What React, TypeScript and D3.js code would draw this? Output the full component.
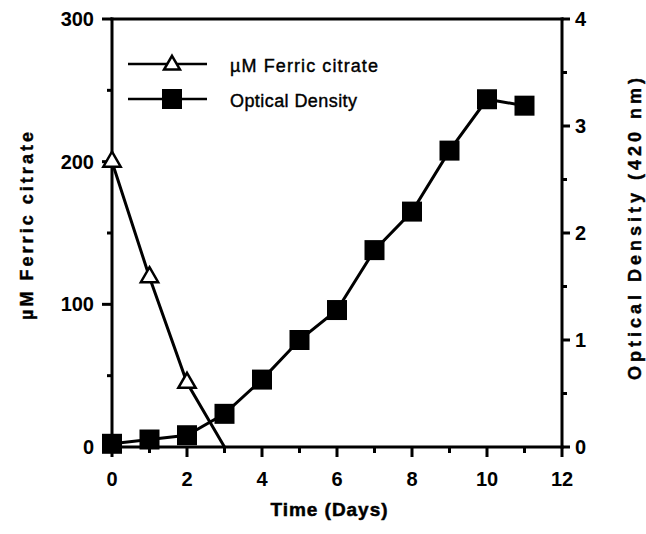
import React from 'react';
import * as d3 from 'd3';

// values
const ferricDays = [0, 1, 2, 3];
const ferricValues = [200, 119, 45, 0];
const odDays = [0, 1, 2, 3, 4, 5, 6, 7, 8, 9, 10, 11];
const odValues = [0.03, 0.07, 0.11, 0.31, 0.63, 1.0, 1.28, 1.84, 2.2, 2.77, 3.25, 3.19];

const xMajor = [0, 2, 4, 6, 8, 10, 12];
const xMinor = [1, 3, 5, 7, 9, 11];
const leftMajor = [0, 100, 200, 300];
const leftMinor = [50, 150, 250];
const rightMajor = [0, 1, 2, 3, 4];
const rightMinor = [0.5, 1.5, 2.5, 3.5];

const legendLabels = ['µM Ferric citrate', 'Optical Density'];

const W = 646;
const H = 534;
const margin = { top: 19, right: 84, bottom: 87, left: 112 };
const font = '"Liberation Sans", Arial, Helvetica, sans-serif';

export default function App() {
  const x = d3.scaleLinear().domain([0, 12]).range([margin.left, W - margin.right]);
  const yL = d3.scaleLinear().domain([0, 300]).range([H - margin.bottom, margin.top]);
  const yR = d3.scaleLinear().domain([0, 4]).range([H - margin.bottom, margin.top]);

  const x0 = x(0), x1 = x(12), yb = yL(0), yt = yL(300);

  const ferricPts = ferricDays.map((d, i) => [d, ferricValues[i]] as [number, number]);
  const odPts = odDays.map((d, i) => [d, odValues[i]] as [number, number]);

  const ferricLine = d3.line<[number, number]>().x(d => x(d[0])).y(d => yL(d[1]));
  const odLine = d3.line<[number, number]>().x(d => x(d[0])).y(d => yR(d[1]));

  const tri = d3.symbol(d3.symbolTriangle, 130)() as string;
  const sq = 20;

  return (
    <svg width={W} height={H} style={{ position: 'absolute', left: 0, top: 0, background: '#fff' }}
      fontFamily={font}>
      {/* data lines */}
      <path d={ferricLine(ferricPts) as string} fill="none" stroke="#000" strokeWidth={3} />
      <path d={odLine(odPts) as string} fill="none" stroke="#000" strokeWidth={3} />

      {/* frame */}
      <g stroke="#000" strokeWidth={3} fill="none" strokeLinecap="square">
        <line x1={x0} y1={yt} x2={x1} y2={yt} />
        <line x1={x0} y1={yt} x2={x0} y2={yb} />
        <line x1={x1} y1={yt} x2={x1} y2={yb} />
        <line x1={x0} y1={yb} x2={x1} y2={yb} />
      </g>

      {/* ticks */}
      <g stroke="#000" strokeWidth={3}>
        {xMajor.map(t => <line key={'xm' + t} x1={x(t)} x2={x(t)} y1={yb} y2={yb + 10} />)}
        {xMinor.map(t => <line key={'xn' + t} x1={x(t)} x2={x(t)} y1={yb} y2={yb + 6} />)}
        {leftMajor.map(t => <line key={'lm' + t} x1={x0 - 10} x2={x0} y1={yL(t)} y2={yL(t)} />)}
        {leftMinor.map(t => <line key={'ln' + t} x1={x0 - 5} x2={x0} y1={yL(t)} y2={yL(t)} />)}
        {rightMajor.map(t => <line key={'rm' + t} x1={x1} x2={x1 + 8} y1={yR(t)} y2={yR(t)} />)}
        {rightMinor.map(t => <line key={'rn' + t} x1={x1} x2={x1 + 5} y1={yR(t)} y2={yR(t)} />)}
      </g>

      <g fontSize={20} fontWeight="bold" fill="#000">
        {xMajor.map(t => (
          <text key={'xl' + t} x={x(t)} y={yb + 39} textAnchor="middle">{t}</text>
        ))}
        {leftMajor.map(t => (
          <text key={'ll' + t} x={x0 - 18} y={yL(t) + 7} textAnchor="end">{t}</text>
        ))}
        {rightMajor.map(t => (
          <text key={'rl' + t} x={x1 + 13} y={yR(t) + 7} textAnchor="start">{t}</text>
        ))}
      </g>

      {/* markers */}
      {ferricPts.filter(d => d[1] > 0).map(d => (
        <path key={'f' + d[0]} d={tri} transform={`translate(${x(d[0])},${yL(d[1])})`}
          fill="#fff" stroke="#000" strokeWidth={2.5} />
      ))}
      {odPts.map(d => (
        <rect key={'o' + d[0]} x={x(d[0]) - sq / 2} y={yR(d[1]) - sq / 2} width={sq} height={sq} fill="#000" />
      ))}

      {/* legend */}
      <g>
        <line x1={128} x2={207} y1={64} y2={64} stroke="#000" strokeWidth={2.5} />
        <path d={d3.symbol(d3.symbolTriangle, 110)() as string} transform="translate(172,65)"
          fill="#fff" stroke="#000" strokeWidth={2.5} />
        <text x={230} y={72} fontSize={18} stroke="#000" strokeWidth={0.4}
          textLength={148} lengthAdjust="spacing">{legendLabels[0]}</text>
        <line x1={128} x2={207} y1={99} y2={99} stroke="#000" strokeWidth={2.5} />
        <rect x={172 - sq / 2} y={99 - sq / 2} width={sq} height={sq} fill="#000" />
        <text x={230} y={107} fontSize={18} stroke="#000" strokeWidth={0.4}
          textLength={127} lengthAdjust="spacing">{legendLabels[1]}</text>
      </g>

      {/* axis titles */}
      <text x={329} y={516} textAnchor="middle" fontSize={19} fontWeight="bold" stroke="#000" strokeWidth={0.5}
        textLength={117} lengthAdjust="spacing">Time (Days)</text>
      <text transform="translate(33,226) rotate(-90)" textAnchor="middle" fontSize={18} fontWeight="bold"
        stroke="#000" strokeWidth={0.4} textLength={188} lengthAdjust="spacing">µM Ferric citrate</text>
      <text transform="translate(641,229) rotate(-90)" textAnchor="middle" fontSize={18} fontWeight="bold"
        stroke="#000" strokeWidth={0.4} textLength={302} lengthAdjust="spacing">Optical Density (420 nm)</text>
    </svg>
  );
}
